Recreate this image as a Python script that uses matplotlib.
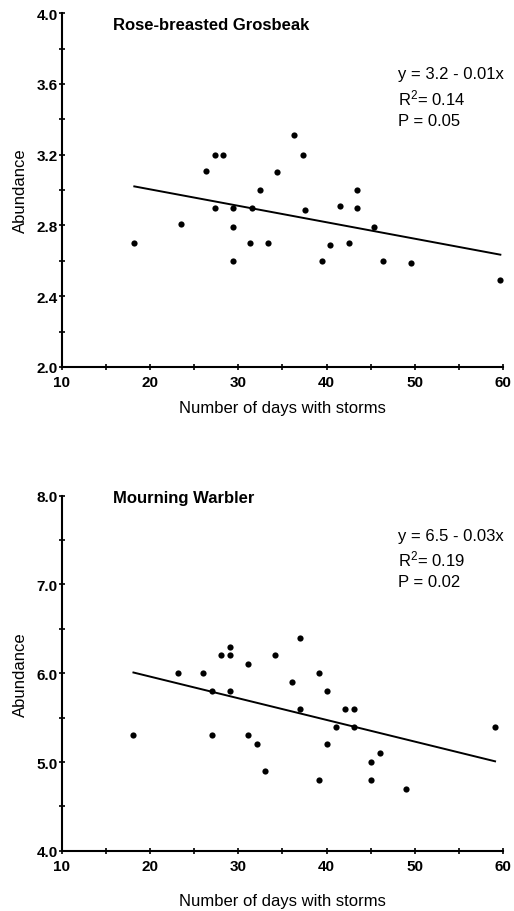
import matplotlib
matplotlib.use("Agg")
import matplotlib.pyplot as plt
import numpy as np
from matplotlib.ticker import MultipleLocator

plt.rcParams["font.family"] = ["Liberation Sans", "DejaVu Sans"]
plt.rcParams["mathtext.fontset"] = "custom"
plt.rcParams["mathtext.rm"] = "Liberation Sans"
plt.rcParams["mathtext.it"] = "Liberation Sans:italic"
plt.rcParams["mathtext.default"] = "regular"

# Rose-breasted Grosbeak
rbg_days = [18.2, 23.5, 26.3, 27.4, 28.3, 27.4, 29.4, 29.4, 29.4, 31.3, 31.5, 32.5, 33.4, 34.4,
            36.3, 37.3, 37.5, 39.5, 40.4, 41.5, 42.5, 43.4, 43.4, 45.4, 46.4, 49.6, 59.7]
rbg_abund = [2.70, 2.81, 3.11, 3.20, 3.20, 2.90, 2.90, 2.79, 2.60, 2.70, 2.90, 3.00, 2.70, 3.10,
             3.31, 3.20, 2.89, 2.60, 2.69, 2.91, 2.70, 3.00, 2.90, 2.79, 2.60, 2.59, 2.49]
rbg_fit = (3.19, -0.0093)   # intercept, slope as drawn
rbg_stats = ["y = 3.2 - 0.01x", "R$^{2}$= 0.14", "P = 0.05"]

# Mourning Warbler
mw_days = [18.1, 23.1, 26.0, 27.0, 27.0, 28.0, 29.1, 29.1, 29.1, 31.1, 31.1, 32.1, 33.0, 34.1,
           36.1, 37.0, 37.0, 39.1, 39.1, 40.0, 40.1, 41.1, 42.1, 43.1, 43.1, 45.0, 45.0, 46.1,
           49.0, 59.1]
mw_abund = [5.3, 6.0, 6.0, 5.8, 5.3, 6.2, 6.3, 6.2, 5.8, 6.1, 5.3, 5.2, 4.9, 6.2,
            5.9, 6.4, 5.6, 6.0, 4.8, 5.8, 5.2, 5.4, 5.6, 5.6, 5.4, 5.0, 4.8, 5.1,
            4.7, 5.4]
mw_fit = (6.45, -0.0244)
mw_stats = ["y = 6.5 - 0.03x", "R$^{2}$= 0.19", "P = 0.02"]

panels = [
    ("Rose-breasted Grosbeak", rbg_days, rbg_abund, rbg_fit, rbg_stats, (2.0, 4.0), 0.4, 0.2,
     [0.1206, 0.5965, 0.858, 0.388], 8, 0.968, 0.828),
    ("Mourning Warbler", mw_days, mw_abund, mw_fit, mw_stats, (4.0, 8.0), 1.0, 0.5,
     [0.1206, 0.0660, 0.858, 0.3894], 14, 0.996, 0.887),
]

fig = plt.figure(figsize=(5.14, 9.12), dpi=100)

for title, xs, ys, fit, stats, ylim, ymaj, ymin, rect, lpad, ty, sy in panels:
    ax = fig.add_axes(rect)
    ax.scatter(xs, ys, s=20, color="black", zorder=3, linewidths=0)
    xx = np.array([min(xs), max(xs)])
    ax.plot(xx, fit[0] + fit[1] * xx, color="black", lw=1.4)

    ax.set_xlim(10, 60)
    ax.set_ylim(*ylim)
    ax.xaxis.set_major_locator(MultipleLocator(10))
    ax.xaxis.set_minor_locator(MultipleLocator(5))
    ax.yaxis.set_major_locator(MultipleLocator(ymaj))
    ax.yaxis.set_minor_locator(MultipleLocator(ymin))
    ax.yaxis.set_major_formatter(plt.FormatStrFormatter("%.1f"))

    for s in ("top", "right"):
        ax.spines[s].set_visible(False)
    for s in ("left", "bottom"):
        ax.spines[s].set_linewidth(1.5)
        ax.spines[s].set_clip_on(False)
    ax.tick_params(which="both", direction="inout", width=1.2, length=4)
    ax.tick_params(axis="y", pad=1)
    ax.tick_params(axis="x", pad=4)
    for lab in ax.get_xticklabels() + ax.get_yticklabels():
        lab.set_fontweight("bold")
        lab.set_fontsize(11)

    ax.set_xlabel("Number of days with storms", fontsize=12, labelpad=lpad)
    ax.set_ylabel("Abundance", fontsize=12, labelpad=6)

    ax.text(0.116, ty, title, transform=ax.transAxes,
            fontsize=12, fontweight="bold", va="center", ha="left")
    for i, line in enumerate(stats):
        ax.text(0.763, sy - i * 0.065, line, transform=ax.transAxes,
                fontsize=12, va="center", ha="left")

fig.savefig("out.png", dpi=100)
